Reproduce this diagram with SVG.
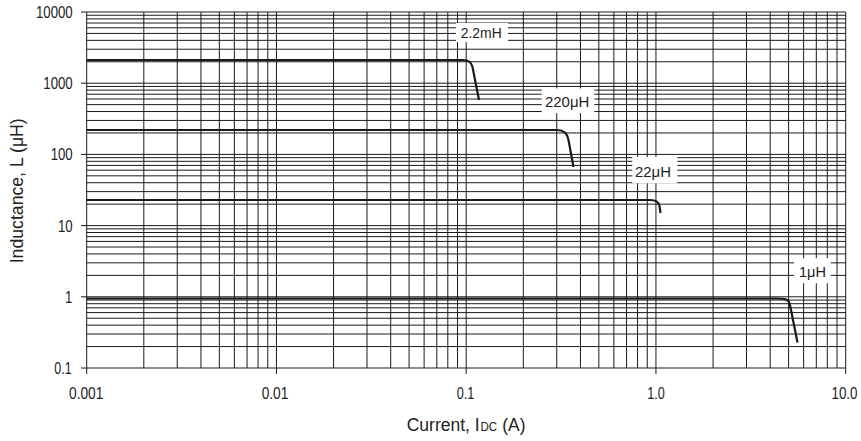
<svg xmlns="http://www.w3.org/2000/svg" width="861" height="441" viewBox="0 0 861 441">
<style>
.grid{fill:none;stroke:#1a1a1a;stroke-width:1}
.curve{fill:none;stroke:#1a1a1a;stroke-width:2.2;stroke-linejoin:round;stroke-linecap:butt}
.tick{fill:none;stroke:#1a1a1a;stroke-width:1}
.lbl{font-family:"Liberation Sans",Arial,sans-serif;font-size:16px;fill:#222}
.tl{font-family:"Liberation Sans",Arial,sans-serif;font-size:15px;fill:#222}
.box{fill:#ffffff;stroke:none}
</style>
<rect width="861" height="441" fill="#ffffff"/>
<g id="grid">
<path class="grid" d="M86.7,12V368M143.82,12V368M177.24,12V368M200.94,12V368M219.33,12V368M234.36,12V368M247.06,12V368M258.06,12V368M267.77,12V368M276.45,12V368M333.57,12V368M366.99,12V368M390.69,12V368M409.08,12V368M424.11,12V368M436.81,12V368M447.81,12V368M457.52,12V368M466.2,12V368M523.32,12V368M556.74,12V368M580.44,12V368M598.83,12V368M613.86,12V368M626.56,12V368M637.56,12V368M647.27,12V368M655.95,12V368M713.07,12V368M746.49,12V368M770.19,12V368M788.58,12V368M803.61,12V368M816.31,12V368M827.31,12V368M837.02,12V368M845.7,12V368"/>
<path class="grid" d="M86.7,368H845.7M86.7,346.57H845.7M86.7,334.03H845.7M86.7,325.13H845.7M86.7,318.23H845.7M86.7,312.6H845.7M86.7,307.83H845.7M86.7,303.7H845.7M86.7,300.06H845.7M86.7,296.8H845.7M86.7,275.37H845.7M86.7,262.83H845.7M86.7,253.93H845.7M86.7,247.03H845.7M86.7,241.4H845.7M86.7,236.63H845.7M86.7,232.5H845.7M86.7,228.86H845.7M86.7,225.6H845.7M86.7,204.17H845.7M86.7,191.63H845.7M86.7,182.73H845.7M86.7,175.83H845.7M86.7,170.2H845.7M86.7,165.43H845.7M86.7,161.3H845.7M86.7,157.66H845.7M86.7,154.4H845.7M86.7,132.97H845.7M86.7,120.43H845.7M86.7,111.53H845.7M86.7,104.63H845.7M86.7,99H845.7M86.7,94.23H845.7M86.7,90.1H845.7M86.7,86.46H845.7M86.7,83.2H845.7M86.7,61.77H845.7M86.7,49.23H845.7M86.7,40.33H845.7M86.7,33.43H845.7M86.7,27.8H845.7M86.7,23.03H845.7M86.7,18.9H845.7M86.7,15.26H845.7M86.7,12H845.7"/>
<path class="tick" d="M81,12H86.7M81,83.2H86.7M81,154.4H86.7M81,225.6H86.7M81,296.8H86.7M81,368H86.7M86.7,368V374M276.45,368V374M466.2,368V374M655.95,368V374M845.7,368V374"/>
</g>
<g id="connectors">
<path class="curve" d="M86.7,60H463Q471,60 472.5,67L479,100"/>
<path class="curve" d="M86.7,130H557Q567,130 568.5,140L573.5,167"/>
<path class="curve" d="M86.7,200H650Q658.5,200 659.5,206L660.5,213"/>
<path class="curve" d="M86.7,298.5H777C785,298.5 789,299 790,305L797.5,342.5"/>
</g>
<g id="label-2.2mH">
<rect class="box" x="456" y="23" width="52" height="19"/>
<text class="tl" x="460.7" y="38.3" textLength="41" lengthAdjust="spacingAndGlyphs">2.2mH</text>
</g>
<g id="label-220uH">
<rect class="box" x="541.7" y="88.5" width="52.6" height="24.5"/>
<text class="tl" x="545" y="106.7" textLength="44.3" lengthAdjust="spacingAndGlyphs">220μH</text>
</g>
<g id="label-22uH">
<rect class="box" x="632.3" y="157" width="45" height="26.3"/>
<text class="tl" x="635" y="176.7" textLength="36" lengthAdjust="spacingAndGlyphs">22μH</text>
</g>
<g id="label-1uH">
<rect class="box" x="794" y="258.3" width="36.7" height="25"/>
<text class="tl" x="799" y="277.3" textLength="27" lengthAdjust="spacingAndGlyphs">1μH</text>
</g>
<g id="y-ticks" text-anchor="end">
<text class="lbl" x="72.7" y="18" textLength="36.7" lengthAdjust="spacingAndGlyphs">10000</text>
<text class="lbl" x="72.7" y="89.2" textLength="29.4" lengthAdjust="spacingAndGlyphs">1000</text>
<text class="lbl" x="72.7" y="160.4" textLength="22" lengthAdjust="spacingAndGlyphs">100</text>
<text class="lbl" x="72.7" y="231.6" textLength="14.7" lengthAdjust="spacingAndGlyphs">10</text>
<text class="lbl" x="72.2" y="302.8" textLength="7.3" lengthAdjust="spacingAndGlyphs">1</text>
<text class="lbl" x="71.7" y="374" textLength="17.4" lengthAdjust="spacingAndGlyphs">0.1</text>
</g>
<g id="x-ticks" text-anchor="middle">
<text class="lbl" x="86.2" y="399" textLength="34.3" lengthAdjust="spacingAndGlyphs">0.001</text>
<text class="lbl" x="275" y="399" textLength="26.7" lengthAdjust="spacingAndGlyphs">0.01</text>
<text class="lbl" x="465.5" y="399" textLength="17.6" lengthAdjust="spacingAndGlyphs">0.1</text>
<text class="lbl" x="656" y="399" textLength="17.6" lengthAdjust="spacingAndGlyphs">1.0</text>
<text class="lbl" x="844.5" y="399" textLength="26" lengthAdjust="spacingAndGlyphs">10.0</text>
</g>
<g id="x-title">
<text class="lbl" x="406.7" y="431" style="font-size:18px" textLength="73" lengthAdjust="spacingAndGlyphs">Current, I</text>
<text class="lbl" x="480.4" y="431" style="font-size:12px" textLength="16.6" lengthAdjust="spacingAndGlyphs">DC</text>
<text class="lbl" x="502.3" y="431" style="font-size:18px" textLength="23.2" lengthAdjust="spacingAndGlyphs">(A)</text>
</g>
<g id="y-title">
<text class="lbl" transform="translate(23,190.8) rotate(-90)" x="0" y="0" text-anchor="middle" style="font-size:18px" textLength="145" lengthAdjust="spacingAndGlyphs">Inductance, L (μH)</text>
</g>
</svg>
